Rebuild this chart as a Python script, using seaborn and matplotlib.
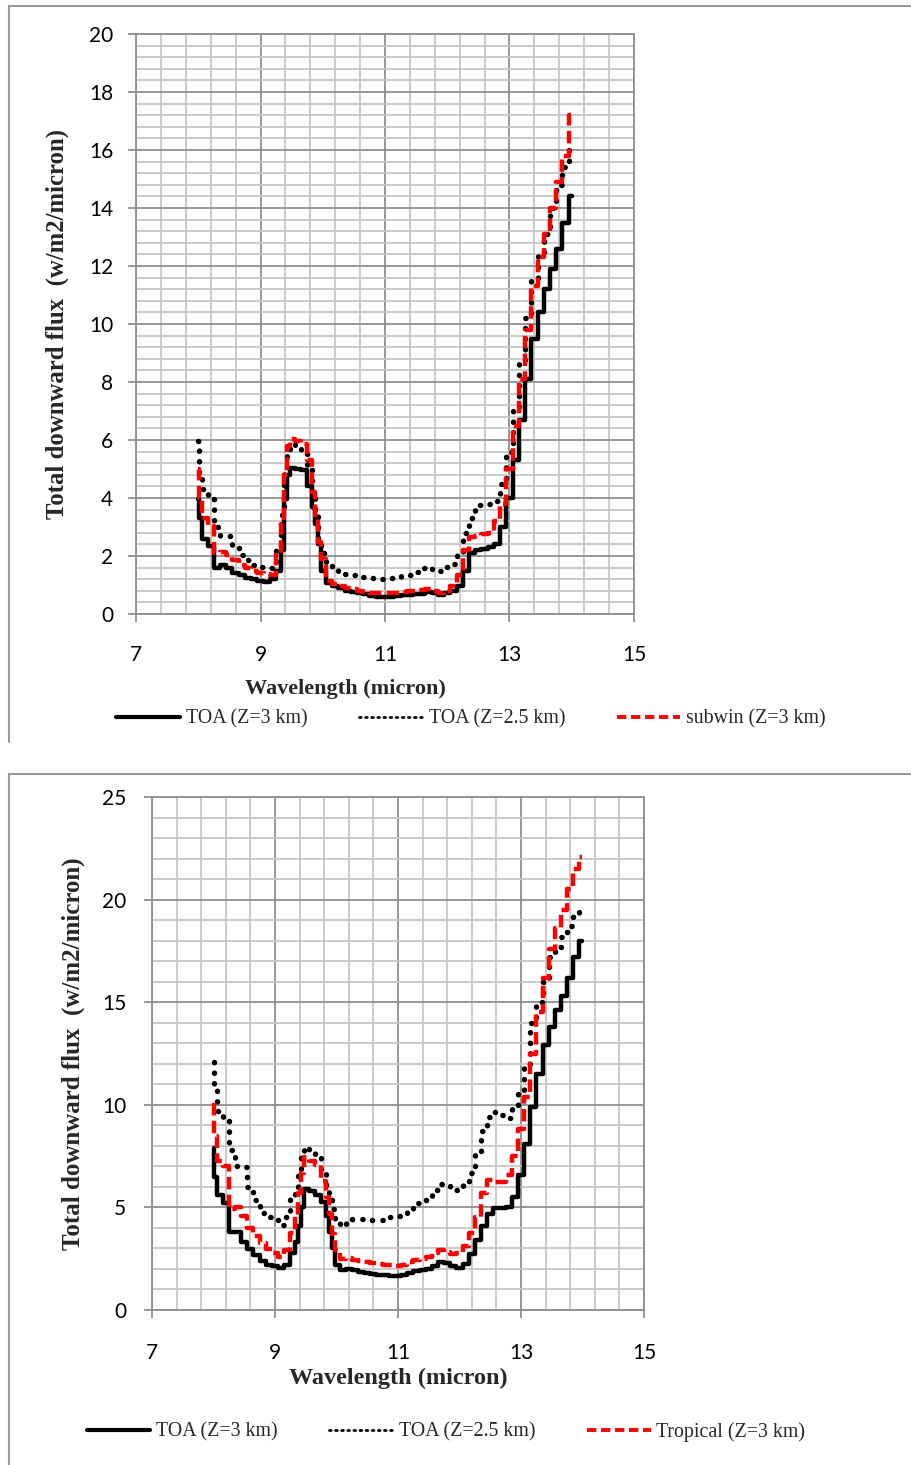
import numpy as np
import pandas as pd
import matplotlib
matplotlib.use("Agg")
import matplotlib.pyplot as plt
from matplotlib.lines import Line2D
from matplotlib.ticker import MultipleLocator, FixedLocator
import seaborn as sns

# ---------------- data ----------------
wavelength = [8.0, 8.03, 8.1, 8.2, 8.3, 8.4, 8.5, 8.6, 8.7, 8.8, 8.9,
              9.0, 9.1, 9.2, 9.3, 9.35, 9.4, 9.45, 9.5, 9.6, 9.7, 9.8, 9.85,
              9.9, 9.95,
              10.0, 10.1, 10.2, 10.3, 10.4, 10.5, 10.6, 10.7, 10.8, 10.9,
              11.0, 11.1, 11.2, 11.3, 11.4, 11.5, 11.6, 11.7, 11.8, 11.9,
              12.0, 12.1, 12.2, 12.3, 12.4, 12.5, 12.6, 12.7, 12.8, 12.9,
              13.0, 13.1, 13.2, 13.3, 13.4, 13.5, 13.6, 13.7, 13.8, 13.9, 14.0]

# Top panel
top_toa_3km = [3.95, 3.3, 2.6, 2.35, 1.6, 1.7, 1.6, 1.42, 1.33, 1.25, 1.2,
               1.15, 1.1, 1.2, 1.5, 2.2, 3.97, 4.8, 5.05, 5.0, 4.95, 4.4, 3.7,
               3.1, 2.4,
               1.5, 1.08, 0.97, 0.88, 0.78, 0.76, 0.73, 0.68, 0.63, 0.6,
               0.6, 0.6, 0.62, 0.64, 0.66, 0.68, 0.7, 0.76, 0.72, 0.66,
               0.72, 0.8, 0.98, 1.5, 2.1, 2.2, 2.25, 2.3, 2.4, 3.0,
               4.0, 5.3, 6.7, 8.1, 9.5, 10.4, 11.2, 11.9, 12.6, 13.5, 14.4]
top_toa_25km = [5.95, 4.9, 4.3, 3.95, 3.0, 2.7, 2.7, 2.3, 2.05, 1.85, 1.68,
                1.62, 1.58, 1.6, 2.2, 3.4, 5.0, 5.6, 5.85, 5.75, 5.62, 5.1, 4.2,
                3.5, 2.6,
                2.1, 1.7, 1.55, 1.45, 1.38, 1.33, 1.3, 1.27, 1.25, 1.23,
                1.22, 1.23, 1.27, 1.33, 1.35, 1.45, 1.57, 1.62, 1.5, 1.48,
                1.62, 1.72, 2.1, 2.8, 3.3, 3.75, 3.75, 3.8, 3.9, 4.5,
                5.6, 7.0, 8.7, 10.2, 11.5, 12.4, 13.1, 14.0, 14.8, 15.4, 16.1]
top_subwin_3km = [5.0, 4.0, 3.3, 3.05, 2.1, 2.15, 2.05, 1.85, 1.7, 1.58, 1.48,
                  1.42, 1.37, 1.35, 2.1, 3.3, 4.8, 5.8, 6.05, 5.95, 5.87, 5.3, 4.2,
                  3.3, 2.5,
                  1.9, 1.15, 1.05, 0.97, 0.9, 0.85, 0.8, 0.75, 0.72, 0.72,
                  0.72, 0.72, 0.74, 0.76, 0.78, 0.8, 0.83, 0.87, 0.8, 0.73,
                  0.8, 0.98, 1.35, 2.2, 2.65, 2.7, 2.75, 2.8, 3.2, 3.8,
                  5.0, 6.5, 8.1, 9.8, 11.3, 12.3, 13.1, 14.0, 14.9, 15.8, 17.2]

# Bottom panel
bot_toa_3km = [7.9, 6.5, 5.6, 5.2, 3.8, 3.8, 3.3, 2.95, 2.7, 2.4, 2.2,
               2.12, 2.05, 2.2, 2.8, 3.3, 4.1, 5.0, 5.9, 5.8, 5.6, 5.25, 4.6,
               3.8, 3.0,
               2.2, 1.95, 2.0, 1.95, 1.85, 1.8, 1.76, 1.72, 1.7, 1.68,
               1.66, 1.72, 1.82, 1.9, 1.95, 2.02, 2.15, 2.35, 2.27, 2.14,
               2.05, 2.25, 2.75, 3.4, 4.1, 4.7, 4.95, 4.95, 5.0, 5.5,
               6.6, 8.1, 9.9, 11.5, 12.9, 13.8, 14.6, 15.3, 16.2, 17.2, 18.0]
bot_toa_25km = [12.1, 10.8, 9.7, 9.4, 7.8, 7.0, 6.95, 6.0, 5.35, 4.75, 4.55,
                4.5, 4.15, 4.55, 5.4, 6.0, 6.8, 7.5, 7.95, 7.75, 7.6, 6.7, 6.1,
                5.5, 4.9,
                4.4, 4.1, 4.35, 4.42, 4.42, 4.4, 4.4, 4.4, 4.47, 4.55,
                4.58, 4.65, 4.9, 5.2, 5.3, 5.45, 5.85, 6.15, 6.1, 5.95,
                5.85, 6.2, 6.7, 7.6, 8.7, 9.4, 9.65, 9.5, 9.35, 9.85,
                10.6, 12.0, 14.0, 15.0, 16.2, 17.2, 17.7, 18.2, 18.7, 19.2, 19.7]
bot_tropical_3km = [10.1, 8.5, 7.25, 7.0, 4.9, 5.0, 4.6, 4.0, 3.6, 3.25, 2.95,
                    2.8, 2.6, 2.9, 3.75, 4.6, 5.7, 6.7, 7.45, 7.25, 7.05, 6.3, 5.5,
                    4.7, 3.7,
                    2.9, 2.5, 2.52, 2.45, 2.37, 2.32, 2.27, 2.23, 2.2, 2.18,
                    2.14, 2.2, 2.35, 2.45, 2.48, 2.6, 2.77, 2.92, 2.85, 2.73,
                    2.76, 3.1, 3.75, 4.55, 5.7, 6.35, 6.25, 6.25, 6.6, 7.5,
                    8.8, 10.4, 12.5, 14.5, 16.2, 17.6, 18.6, 19.5, 20.5, 21.5, 22.1]

x_ticks = [7, 9, 11, 13, 15]
top_y_ticks = [0, 2, 4, 6, 8, 10, 12, 14, 16, 18, 20]
bot_y_ticks = [0, 5, 10, 15, 20, 25]

top_labels = ["TOA (Z=3 km)", "TOA (Z=2.5 km)", "subwin (Z=3 km)"]
bot_labels = ["TOA (Z=3 km)", "TOA (Z=2.5 km)", "Tropical (Z=3 km)"]
x_label = "Wavelength (micron)"
y_label = "Total downward flux  (w/m2/micron)"

# ---------------- style ----------------
sns.set_theme(style="white")
plt.rcParams["font.family"] = ["Lato", "DejaVu Sans"]

W, H = 912, 1465
fig = plt.figure(figsize=(W / 100, H / 100), dpi=100)

MAJOR_C = "#8f8f8f"
MINOR_C = "#c6c6c6"
SERIF = ["Liberation Serif", "DejaVu Serif"]

solid_kw = dict(color="black", lw=3.2, linestyle="-")
dot_kw = dict(color="black", lw=3.9, linestyle=(0, (0.05, 1.9)),
              dash_capstyle="round")
red_kw = dict(color="#ff0000", lw=3.2, linestyle=(0, (2.8, 1.2)))


def px_axes(l, t, r, b):
    return [l / W, 1 - b / H, (r - l) / W, (b - t) / H]


def make_panel(rect, series, yticks, yminor, xlab_pos, ylab_pos,
               ypad, xpad, xfs, yfs):
    ax = fig.add_axes(rect)
    kws = [solid_kw, dot_kw, red_kw]
    for vals, kw in zip(series, kws):
        df_s = pd.DataFrame({"w": wavelength, "v": vals})
        sns.lineplot(data=df_s, x="w", y="v", ax=ax, estimator=None,
                     drawstyle="steps-mid", legend=False, **kw)
    ax.set_xlim(x_ticks[0], x_ticks[-1])
    ax.set_ylim(yticks[0], yticks[-1])
    ax.xaxis.set_major_locator(FixedLocator(x_ticks))
    ax.xaxis.set_minor_locator(MultipleLocator(0.4, offset=0.2))
    ax.yaxis.set_major_locator(FixedLocator(yticks))
    ax.yaxis.set_minor_locator(MultipleLocator(yminor))
    ax.grid(which="minor", color=MINOR_C, lw=1.3)
    ax.grid(which="major", color=MAJOR_C, lw=1.3)
    ax.set_axisbelow(True)
    for s in ax.spines.values():
        s.set_color(MAJOR_C)
        s.set_linewidth(1.3)
    ax.tick_params(axis="both", which="major", direction="out", length=5.5,
                   width=1.3, color=MAJOR_C, labelsize=15, labelcolor="black")
    ax.tick_params(axis="both", which="minor", length=0)
    ax.tick_params(axis="y", pad=ypad)
    ax.tick_params(axis="x", pad=xpad)
    ax.tick_params(left=True, bottom=True)
    ax.set_xlabel(x_label, family=SERIF, fontweight="bold", fontsize=xfs,
                  va="center")
    ax.set_ylabel(y_label, family=SERIF, fontweight="bold", fontsize=yfs,
                  va="center")
    ax.xaxis.set_label_coords(*xlab_pos)
    ax.yaxis.set_label_coords(*ylab_pos)
    return ax


ax1 = make_panel(px_axes(136, 34, 634, 614),
                 [top_toa_3km, top_toa_25km, top_subwin_3km],
                 top_y_ticks, 0.4, (0.42, (614 - 689) / 580),
                 ((57 - 136) / 498, 0.5), 11, 17, 16, 17.8)
ax2 = make_panel(px_axes(152, 797, 644, 1310),
                 [bot_toa_3km, bot_toa_25km, bot_tropical_3km],
                 bot_y_ticks, 1, (0.5, (1310 - 1378) / 513),
                 ((73 - 152) / 492, 0.5), 13, 18, 17.5, 18)

# ---------------- legends ----------------
def legend_handles():
    return [Line2D([], [], color="black", lw=3.0),
            Line2D([], [], color="black", lw=2.0, linestyle=(0, (0.6, 1.6)),
                   dash_capstyle="round"),
            Line2D([], [], color="#ff0000", lw=2.8, linestyle=(0, (2.4, 1.2)))]

for labels, ycen, xcen in [(top_labels, 719, 471), (bot_labels, 1432, 446)]:
    fig.legend(legend_handles(), labels, loc="center",
               bbox_to_anchor=(xcen / W, 1 - ycen / H), ncol=3, frameon=False,
               prop={"family": SERIF, "size": 14.3}, handlelength=3.2,
               handletextpad=0.3, columnspacing=2.6, borderpad=0)

# ---------------- outer panel frames ----------------
FRAME_C = "#9a9a9a"
for (x0, y0, x1, y1) in [(9, 6, 912, 6), (9, 6, 9, 742),
                         (9, 774, 912, 774), (9, 774, 9, 1465)]:
    fig.add_artist(Line2D([x0 / W, x1 / W], [1 - y0 / H, 1 - y1 / H],
                          transform=fig.transFigure, color=FRAME_C, lw=1.5))

fig.savefig("out.png", dpi=100)
